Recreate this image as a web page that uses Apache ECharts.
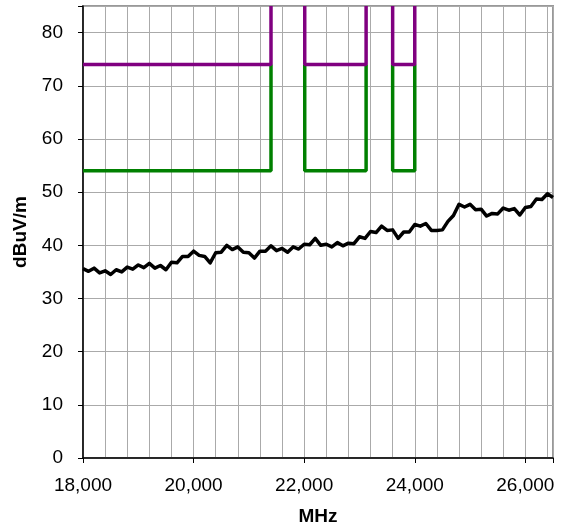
<!DOCTYPE html>
<html>
<head>
<meta charset="utf-8">
<title>Radiated emissions 18-26.5 GHz</title>
<script src="https://cdn.jsdelivr.net/npm/echarts@6/dist/echarts.min.js"></script>
<style>
  html, body { margin: 0; padding: 0; background: #fff; }
  #chart { width: 567px; height: 531px; }
</style>
</head>
<body>
<div id="chart"></div>
<script>
// measured trace (MHz / dBuV/m), every 100 MHz incl. the noise band
const traceMHz = [
  18000, 18100, 18200, 18300, 18400, 18500, 18600, 18700, 18800, 18900,
  19000, 19100, 19200, 19300, 19400, 19500, 19600, 19700, 19800, 19900,
  20000, 20100, 20200, 20300, 20400, 20500, 20600, 20700, 20800, 20900,
  21000, 21100, 21200, 21300, 21400, 21500, 21600, 21700, 21800, 21900,
  22000, 22100, 22200, 22300, 22400, 22500, 22600, 22700, 22800, 22900,
  23000, 23100, 23200, 23300, 23400, 23500, 23600, 23700, 23800, 23900,
  24000, 24100, 24200, 24300, 24400, 24500, 24600, 24700, 24800, 24900,
  25000, 25100, 25200, 25300, 25400, 25500, 25600, 25700, 25800, 25900,
  26000, 26100, 26200, 26300, 26400, 26500
];
const traceLevel = [
  35.6, 35.1, 35.7, 34.8, 35.2, 34.5, 35.4, 35.0, 35.9, 35.5,
  36.3, 35.8, 36.6, 35.7, 36.2, 35.4, 36.8, 36.7, 37.9, 37.9,
  38.9, 38.1, 37.9, 36.7, 38.6, 38.7, 40.0, 39.2, 39.7, 38.7,
  38.6, 37.6, 38.9, 38.9, 39.9, 39.0, 39.4, 38.7, 39.7, 39.3,
  40.2, 40.1, 41.3, 40.0, 40.2, 39.7, 40.5, 39.9, 40.4, 40.3,
  41.6, 41.3, 42.6, 42.4, 43.6, 42.8, 42.9, 41.3, 42.5, 42.5,
  43.9, 43.6, 44.1, 42.8, 42.8, 42.9, 44.5, 45.6, 47.7, 47.2,
  47.7, 46.7, 46.8, 45.5, 46.0, 45.9, 47.0, 46.6, 46.9, 45.7,
  47.1, 47.3, 48.7, 48.6, 49.7, 49.0
];

// restricted bands and limits
const bandStart = [18000, 22010, 23600];
const bandEnd = [21400, 23120, 24000];
const peakLimit = 74;
const avgLimit = 54;

const yTop = 85;
const xTicks = [18000, 20000, 22000, 24000, 26000];

// build the limit outlines ('-' breaks the line between bands)
const peakLine = [];
const avgLine = [];
bandStart.forEach((start, i) => {
  const end = bandEnd[i];
  if (i > 0) {
    peakLine.push([start, yTop]);
    avgLine.push([start, peakLimit]);
  }
  peakLine.push([start, peakLimit], [end, peakLimit], [end, yTop], ['-', '-']);
  avgLine.push([start, avgLimit], [end, avgLimit], [end, peakLimit], ['-', '-']);
});

const chart = echarts.init(document.getElementById('chart'));

const labelFont = {
  color: '#000',
  fontFamily: 'Liberation Sans, Arial, sans-serif',
  fontSize: 19
};

chart.setOption({
  animation: false,
  grid: {
    left: 83,
    right: 14,
    top: 6,
    bottom: 71,
    show: true,
    borderColor: '#999',
    borderWidth: 2
  },
  xAxis: {
    type: 'value',
    min: 18000,
    max: 26500,
    interval: 2000,
    name: 'MHz',
    nameLocation: 'middle',
    nameGap: 49,
    nameTextStyle: { ...labelFont, fontWeight: 'bold' },
    axisLine: { onZero: false, lineStyle: { color: '#000', width: 1.5 } },
    axisTick: { show: true, length: 5, lineStyle: { color: '#000' } },
    axisLabel: {
      ...labelFont,
      margin: 18,
      formatter: (v) => (xTicks.includes(v) ? v.toLocaleString('en-US') : '')
    },
    splitLine: { lineStyle: { color: '#aaa', width: 1 } },
    minorTick: { show: false, splitNumber: 5 },
    minorSplitLine: { show: true, lineStyle: { color: '#aaa', width: 1 } }
  },
  yAxis: {
    type: 'value',
    min: 0,
    max: yTop,
    interval: 10,
    name: 'dBuV/m',
    nameLocation: 'middle',
    nameGap: 53,
    nameTextStyle: { ...labelFont, fontWeight: 'bold' },
    axisLine: { show: true, lineStyle: { color: '#000', width: 1.5 } },
    axisTick: { show: true, length: 5, lineStyle: { color: '#000' } },
    axisLabel: {
      ...labelFont,
      margin: 20,
      formatter: (v) => (v % 10 === 0 ? String(v) : '')
    },
    splitLine: { lineStyle: { color: '#aaa', width: 1 } }
  },
  series: [
    {
      name: 'Average limit',
      type: 'line',
      data: avgLine,
      symbol: 'none',
      lineStyle: { color: '#008000', width: 3.5 }
    },
    {
      name: 'Peak limit',
      type: 'line',
      data: peakLine,
      symbol: 'none',
      lineStyle: { color: '#800080', width: 3.5 }
    },
    {
      name: 'Measured',
      type: 'line',
      data: traceMHz.map((f, i) => [f, traceLevel[i]]),
      symbol: 'none',
      lineStyle: { color: '#000', width: 3.5, join: 'round' }
    }
  ]
});
</script>
</body>
</html>
